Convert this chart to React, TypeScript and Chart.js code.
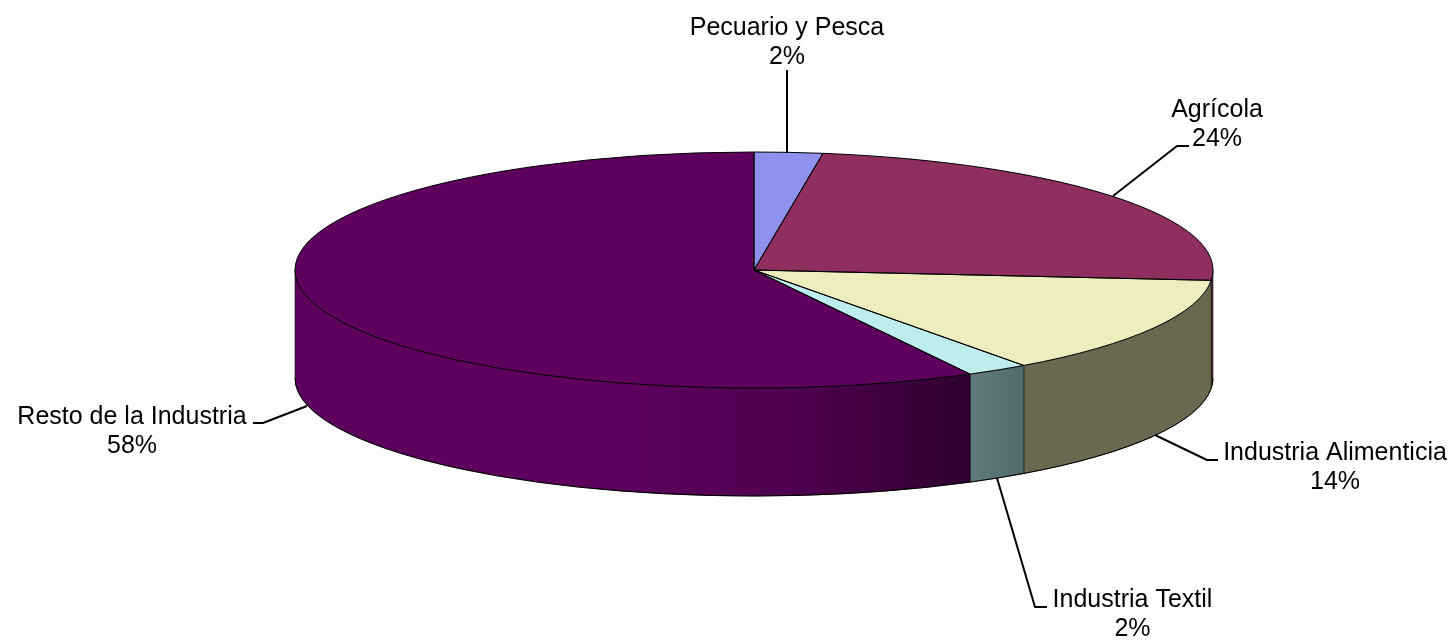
import React, { useEffect, useRef } from "react";
import { Chart, registerables } from "chart.js";

Chart.register(...registerables);

const categories = ["Pecuario y Pesca", "Agrícola", "Industria Alimenticia", "Industria Textil", "Resto de la Industria"];
const shares = [2.4, 24, 13.6, 2.2, 57.8];
const percentLabels = ["2%", "24%", "14%", "2%", "58%"];
const topColors = ["#9090EE", "#8F2F5F", "#EEEDBD", "#BDEDED", "#5F005F"];

const PIE = { cx: 754, cy: 270, rx: 459, ry: 118, depth: 108 };
const FONT = '25px "Liberation Sans", Arial, sans-serif';
const LINE_H = 29;

// Leader lines and label anchors, per category
const callouts = [
  { text: [787, 35], line: [[787, 153], [787, 70]] },
  { text: [1217, 116.5], line: [[1113, 196], [1177, 146], [1189, 146]] },
  { text: [1335, 459.5], line: [[1155, 435], [1207, 460], [1218, 460]] },
  { text: [1132.5, 606.5], line: [[997, 478], [1035, 607], [1047, 607]] },
  { text: [132, 423.5], line: [[307, 406], [263, 423], [253, 423]] },
];

// Wall shading per category: [x fraction across the wall, colour]
const wallStops: [number, string][][] = [
  [[0, "#5F5F80"], [1, "#5F5F80"]],
  [[0, "#5A2440"], [1, "#5A2440"]],
  [[0, "#6A6850"], [1, "#6A6850"]],
  [[0, "#607C7E"], [1, "#526A6C"]],
  [[0, "#5F005F"], [0.5, "#5D005D"], [0.72, "#4F004F"], [0.88, "#3F003F"], [1, "#2F002F"]],
];

const pie3d = {
  id: "pie3d",
  beforeDatasetsDraw(chart: any) {
    const { ctx } = chart;
    const arcs = chart.getDatasetMeta(0).data;
    const { cx, cy, rx, ry, depth } = PIE;
    arcs.forEach((arc: any, i: number) => {
      const t0 = Math.max(arc.startAngle, 0);
      const t1 = Math.min(arc.endAngle, Math.PI);
      if (t1 <= t0) return;
      const x0 = cx + rx * Math.cos(t1);
      const x1 = cx + rx * Math.cos(t0);
      const g = ctx.createLinearGradient(x0, 0, x1, 0);
      wallStops[i].forEach(([p, c]) => g.addColorStop(p, c));
      ctx.save();
      ctx.beginPath();
      ctx.ellipse(cx, cy, rx, ry, 0, t0, t1, false);
      ctx.ellipse(cx, cy + depth, rx, ry, 0, t1, t0, true);
      ctx.closePath();
      ctx.fillStyle = g;
      ctx.fill();
      ctx.lineWidth = 1;
      ctx.strokeStyle = "rgba(0,0,0,0.55)";
      ctx.stroke();
      ctx.beginPath();
      ctx.ellipse(cx, cy + depth, rx, ry, 0, t0, t1, false);
      ctx.strokeStyle = "#000";
      ctx.stroke();
      ctx.restore();
    });
    const a = arcs[0];
    const R = a.outerRadius;
    ctx.save();
    ctx.translate(cx, cy);
    ctx.scale(rx / R, ry / R);
    ctx.translate(-a.x, -a.y);
  },
  afterDatasetsDraw(chart: any) {
    const { ctx } = chart;
    ctx.restore();
    const arcs = chart.getDatasetMeta(0).data;
    const { cx, cy, rx, ry } = PIE;
    ctx.save();
    ctx.lineWidth = 1;
    ctx.strokeStyle = "#000";
    arcs.forEach((arc: any) => {
      ctx.beginPath();
      ctx.moveTo(cx, cy);
      ctx.ellipse(cx, cy, rx, ry, 0, arc.startAngle, arc.endAngle, false);
      ctx.closePath();
      ctx.stroke();
    });
    ctx.lineWidth = 2;
    ctx.lineJoin = "round";
    callouts.forEach((c) => {
      ctx.beginPath();
      c.line.forEach(([x, y], k) => (k ? ctx.lineTo(x, y) : ctx.moveTo(x, y)));
      ctx.stroke();
    });
    ctx.font = FONT;
    ctx.fillStyle = "#000";
    ctx.textAlign = "center";
    ctx.textBaseline = "alphabetic";
    categories.forEach((name, i) => {
      const [x, y] = callouts[i].text;
      ctx.fillText(name, x, y);
      ctx.fillText(percentLabels[i], x, y + LINE_H);
    });
    ctx.restore();
  },
};

export default function App() {
  const ref = useRef<HTMLCanvasElement>(null);
  useEffect(() => {
    const chart = new Chart(ref.current as HTMLCanvasElement, {
      type: "pie",
      data: {
        labels: categories,
        datasets: [{ data: shares, backgroundColor: topColors, borderWidth: 0 }],
      },
      options: {
        animation: false,
        responsive: false,
        devicePixelRatio: 1,
        events: [],
        layout: { padding: 0 },
        plugins: { legend: { display: false }, tooltip: { enabled: false }, title: { display: false } },
      },
      plugins: [pie3d],
    } as any);
    return () => chart.destroy();
  }, []);
  return (
    <canvas
      ref={ref}
      width={1455}
      height={640}
      style={{ position: "absolute", left: 0, top: 0, width: 1455, height: 640, background: "#fff" }}
    />
  );
}
